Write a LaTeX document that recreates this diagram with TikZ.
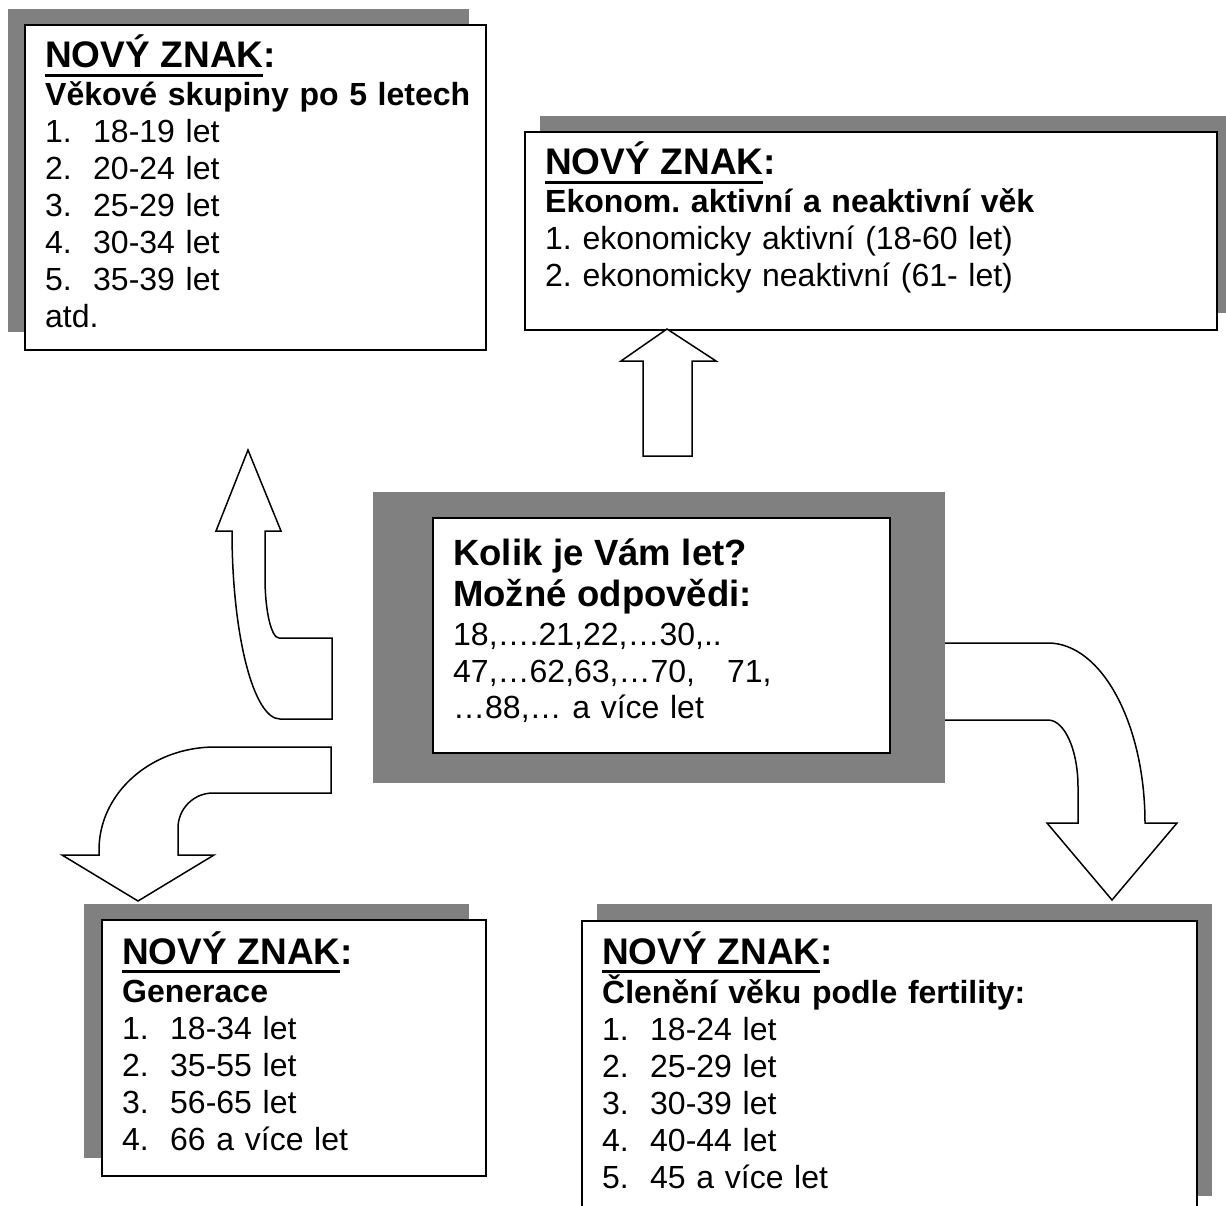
\documentclass[tikz,border=0pt]{standalone}
\usepackage{fontspec}
\setmainfont{Liberation Sans}
\usepackage{tikz}
\usetikzlibrary{positioning}
\definecolor{shadowGrey}{HTML}{808080}
\frenchspacing
\newcommand{\novyznak}{{\fontsize{37}{37}\selectfont\bfseries\setbox0=\hbox{NOVÝ ZNAK}\rlap{\rule[-9pt]{\wd0}{3pt}}\box0:}}
\newcommand{\polozka}[2]{\makebox[48pt][l]{#1}#2}
\newcommand{\velky}[1]{{\fontsize{36.5}{36.5}\selectfont\bfseries #1}}

\begin{document}
\begin{tikzpicture}[
  x=1pt, y=-1pt,
  shadow/.style={rectangle,fill=shadowGrey,inner sep=0pt,anchor=north west},
  frame/.style={rectangle,draw=black,fill=white,line width=1.6pt,inner sep=0pt,anchor=north west},
  boxtext/.style={anchor=base west,inner sep=0pt,align=left,text width=#1,font=\fontsize{32}{37}\selectfont},
  bigarrow/.style={draw=black,fill=white,line width=1.5pt,line join=miter}
]
\useasboundingbox (0,0) rectangle (1226,1206);

% right arrow sits under the grey frame of the question box
\draw[bigarrow] (940,643) -- (1048,643) .. controls (1101.5,643) and (1145,723.6) .. (1145,823)
  -- (1177,823) -- (1112,900) -- (1047,823) -- (1078,823) -- (1078,787)
  .. controls (1078,750) and (1064.6,720) .. (1048,720) -- (940,720) -- cycle;

\node[shadow,minimum width=461pt,minimum height=323pt] (vekShadow) at (8,9) {};
\node[frame,minimum width=461pt,minimum height=325pt] (vek) at (24,24) {};
\node[boxtext=430pt] (vekText) at ([shift={(21,44)}]vek.north west) {\novyznak\\[1pt]
  \textbf{Věkové skupiny po 5 letech}\\
  \polozka{1.}{18-19 let}\\
  \polozka{2.}{20-24 let}\\
  \polozka{3.}{25-29 let}\\
  \polozka{4.}{30-34 let}\\
  \polozka{5.}{35-39 let}\\
  atd.};

\node[shadow,minimum width=690pt,minimum height=197pt] (ekonShadow) at (540,116) {};
\node[frame,minimum width=692pt,minimum height=198pt] (ekon) at (524,131) {};
\node[boxtext=660pt] (ekonText) at ([shift={(21,44)}]ekon.north west) {\novyznak\\[1pt]
  \textbf{Ekonom. aktivní a neaktivní věk}\\
  1. ekonomicky aktivní (18-60 let)\\
  2. ekonomicky neaktivní (61- let)};

\node[shadow,minimum width=572pt,minimum height=291pt] (kolikShadow) at (373,492) {};
\node[frame,minimum width=457pt,minimum height=235pt] (kolik) at (432,517) {};
\node[boxtext=430pt] (kolikText) at ([shift={(21,48)}]kolik.north west) {\velky{Kolik je Vám let?}\\[4pt]
  \velky{Možné odpovědi:}\\[2pt]
  18,….21,22,…30,..\\
  47,…62,63,…70,\ \ \ 71,\\[-1pt]
  …88,… a více let};

\node[shadow,minimum width=385pt,minimum height=254pt] (genShadow) at (84,904) {};
\node[frame,minimum width=384pt,minimum height=256pt] (gen) at (101,919) {};
\node[boxtext=360pt] (genText) at ([shift={(21,45)}]gen.north west) {\novyznak\\[1pt]
  \textbf{Generace}\\
  \polozka{1.}{18-34 let}\\
  \polozka{2.}{35-55 let}\\
  \polozka{3.}{56-65 let}\\
  \polozka{4.}{66 a více let}};

\node[shadow,minimum width=615pt,minimum height=292pt] (clenShadow) at (597,904) {};
\node[frame,minimum width=615pt,minimum height=300pt] (clen) at (581,920) {};
\node[boxtext=580pt] (clenText) at ([shift={(21,44)}]clen.north west) {\novyznak\\[1pt]
  \textbf{Členění věku podle fertility:}\\
  \polozka{1.}{18-24 let}\\
  \polozka{2.}{25-29 let}\\
  \polozka{3.}{30-39 let}\\
  \polozka{4.}{40-44 let}\\
  \polozka{5.}{45 a více let}};

\draw[bigarrow] (643,456) -- (643,361) -- (621,361) -- (667,329) -- (716,361) -- (692,361) -- (692,456) -- cycle;

\draw[bigarrow] (332,719) -- (280,719) .. controls (253.5,719) and (232,634.8) .. (232,531)
  -- (216,531) -- (248,450) -- (281,531) -- (265,531) -- (265,578)
  .. controls (265,611) and (271.3,638) .. (279,638) -- (332,638) -- cycle;

\draw[bigarrow] (331,747) -- (215,747) .. controls (151,747) and (99,793) .. (99,850)
  -- (99,855) -- (62,855) -- (138,901) -- (214,855) -- (178,855) -- (178,828)
  .. controls (178,808.7) and (193.7,793) .. (213,793) -- (331,793) -- cycle;
\end{tikzpicture}
\end{document}
